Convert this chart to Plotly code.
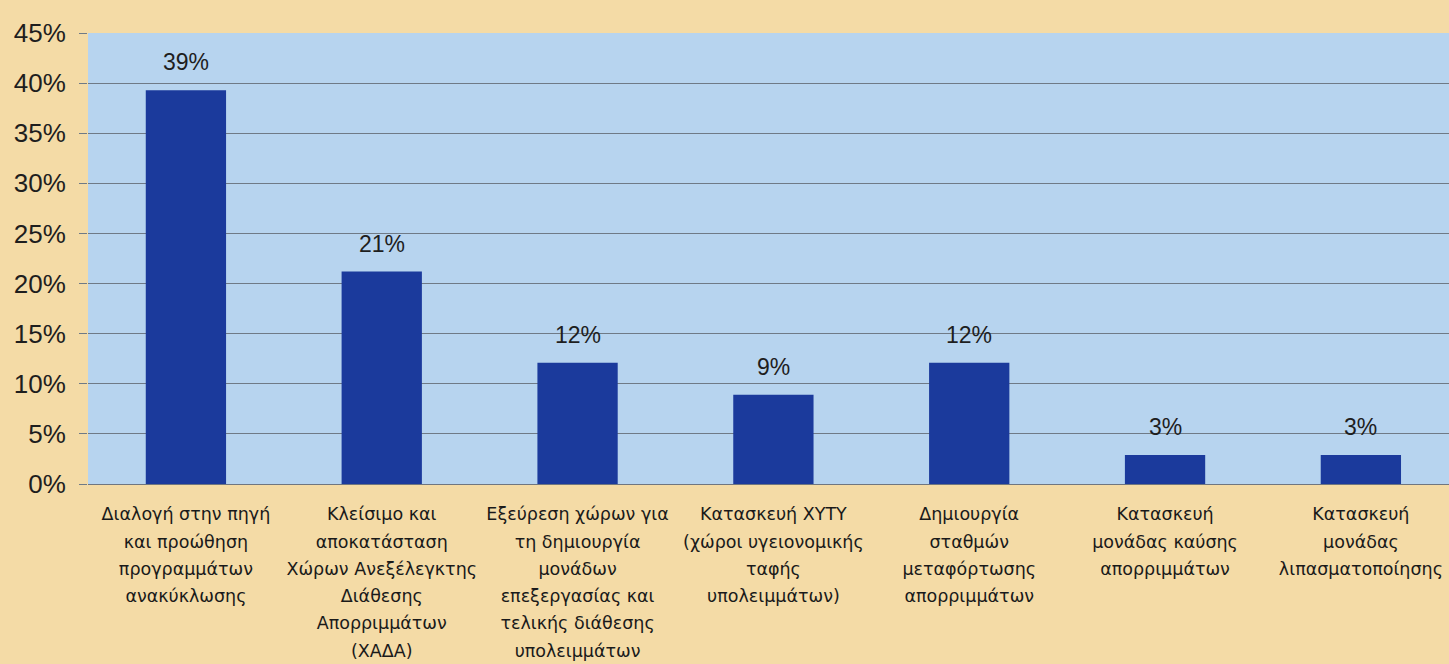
import plotly.graph_objects as go

# Survey results: share of responses per waste-management priority
category_lines = [
    ["Διαλογή στην πηγή", "και προώθηση", "προγραμμάτων", "ανακύκλωσης"],
    ["Κλείσιμο και", "αποκατάσταση", "Χώρων Ανεξέλεγκτης", "Διάθεσης", "Απορριμμάτων", "(ΧΑΔΑ)"],
    ["Εξεύρεση χώρων για", "τη δημιουργία", "μονάδων", "επεξεργασίας και", "τελικής διάθεσης", "υπολειμμάτων"],
    ["Κατασκευή ΧΥΤΥ", "(χώροι υγειονομικής", "ταφής", "υπολειμμάτων)"],
    ["Δημιουργία", "σταθμών", "μεταφόρτωσης", "απορριμμάτων"],
    ["Κατασκευή", "μονάδας καύσης", "απορριμμάτων"],
    ["Κατασκευή", "μονάδας", "λιπασματοποίησης"],
]
shares = [0.393, 0.212, 0.121, 0.089, 0.121, 0.029, 0.029]

y_ticks = [0, 0.05, 0.10, 0.15, 0.20, 0.25, 0.30, 0.35, 0.40, 0.45]
y_tick_labels = ["0%", "5%", "10%", "15%", "20%", "25%", "30%", "35%", "40%", "45%"]

x_pos = list(range(len(category_lines)))

# Loose line spacing: the tick font sets the line pitch, each line is drawn smaller
LABEL_GLYPH_SIZE = 17.5
tick_text = [
    "<br>".join(f"<span style='font-size:{LABEL_GLYPH_SIZE}px'>{line}</span>" for line in lines)
    for lines in category_lines
]

fig = go.Figure(
    go.Bar(
        x=x_pos,
        y=shares,
        width=0.41,
        marker=dict(color="#1b3a9c", line=dict(width=0)),
        hoverinfo="skip",
    )
)

# Percentage labels floating a little above each bar
for xi, v in zip(x_pos, shares):
    fig.add_annotation(
        x=xi,
        y=v,
        text=f"{v:.0%}",
        showarrow=False,
        xanchor="center",
        yanchor="bottom",
        yshift=13,
        font=dict(family="Liberation Sans, Arial, sans-serif", size=23, color="#1e1e1e"),
    )

fig.update_layout(
    width=1449,
    height=664,
    margin=dict(l=88, r=0, t=33, b=180),
    paper_bgcolor="#f4dba6",
    plot_bgcolor="#b7d4ef",
    showlegend=False,
    xaxis=dict(
        range=[-0.5, 6.45],
        tickmode="array",
        tickvals=x_pos,
        ticktext=tick_text,
        tickangle=0,
        tickfont=dict(family="DejaVu Sans, Verdana, sans-serif", size=21, color="#1a1a1a"),
        showgrid=False,
        zeroline=False,
        showline=True,
        linecolor="#6f7680",
        linewidth=1,
        ticks="",
        ticklabelstandoff=10,
        fixedrange=True,
    ),
    yaxis=dict(
        range=[0, 0.45],
        tickmode="array",
        tickvals=y_ticks,
        ticktext=y_tick_labels,
        tickfont=dict(family="Liberation Sans, Arial, sans-serif", size=26, color="#1e1e1e"),
        showgrid=True,
        gridcolor="#6f7a86",
        gridwidth=1,
        zeroline=False,
        showline=False,
        ticks="outside",
        ticklen=8,
        tickcolor="#6f7a86",
        ticklabelstandoff=8,
        fixedrange=True,
    ),
)

fig.write_html("out.html")
